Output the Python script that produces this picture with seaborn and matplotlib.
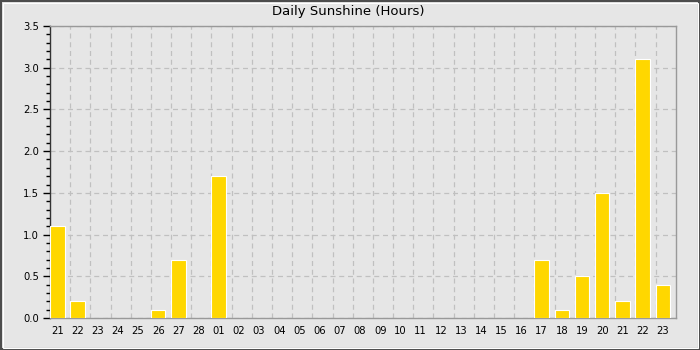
import matplotlib
matplotlib.use("Agg")
import matplotlib.pyplot as plt
import seaborn as sns
import pandas as pd
import numpy as np
from matplotlib.patches import Rectangle
from matplotlib.ticker import MultipleLocator

days = ["21", "22", "23", "24", "25", "26", "27", "28",
        "01", "02", "03", "04", "05", "06", "07", "08", "09", "10",
        "11", "12", "13", "14", "15", "16", "17", "18", "19", "20",
        "21", "22", "23"]
sunshine = [1.1, 0.2, 0.0, 0.0, 0.0, 0.1, 0.7, 0.0,
            1.7, 0.0, 0.0, 0.0, 0.0, 0.0, 0.0, 0.0, 0.0, 0.0,
            0.0, 0.0, 0.0, 0.0, 0.0, 0.0, 0.7, 0.1, 0.5, 1.5,
            0.2, 3.1, 0.4]
title = "Daily Sunshine (Hours)"

df = pd.DataFrame({"pos": np.arange(len(days)), "hours": sunshine})

sns.set_style("white")
plt.rcParams['font.family'] = ['DejaVu Sans']

W, H = 700, 350
fig = plt.figure(figsize=(7, 3.5), dpi=100, facecolor="#e6e6e6")
ax = fig.add_axes([50 / W, 1 - 318 / H, (675.7 - 50) / W, (318 - 26) / H])
ax.set_facecolor("#e6e6e6")

bw = 0.72
sns.barplot(data=df, x="pos", y="hours", color="#ffd700", width=bw,
            edgecolor="white", linewidth=0.8, saturation=1, ax=ax, zorder=3)

ax.set_xlim(-bw / 2, len(days) - bw / 2)
ax.set_ylim(0, 3.5)
ax.set_xticks(np.arange(len(days)))
ax.set_xticklabels(days)
ax.set_xticks(np.arange(1, len(days)) - bw / 2, minor=True)
ax.yaxis.set_major_locator(MultipleLocator(0.5))
ax.yaxis.set_minor_locator(MultipleLocator(0.1))
ax.yaxis.set_major_formatter(matplotlib.ticker.FormatStrFormatter("%.1f"))

ax.grid(True, axis="y", which="major", linestyle=(0, (4, 3)), color="#c0c0c0", linewidth=0.9, zorder=0)
ax.grid(True, axis="x", which="minor", linestyle=(0, (4, 3)), color="#c0c0c0", linewidth=0.9, zorder=0)
ax.grid(False, axis="x", which="major")
ax.set_axisbelow(True)

ax.tick_params(axis="x", which="both", length=0, labelsize=7.2, pad=6, colors="black")
ax.tick_params(axis="y", which="major", length=5, width=1, labelsize=7.2, pad=3, colors="black", left=True)
ax.tick_params(axis="y", which="minor", length=3, width=1, left=True, color="black")
ax.set_xlabel("")
ax.set_ylabel("")

for s in ["top", "right", "bottom"]:
    ax.spines[s].set_color("#999999")
    ax.spines[s].set_linewidth(1)
ax.spines["left"].set_color("#333333")
ax.spines["left"].set_linewidth(1)

fig.text(348 / W, 1 - 12 / H, title, ha="center", va="center", fontsize=9.5, color="black")

# outer frame
fig.patches.append(Rectangle((1 / W, 1 / H), (W - 2) / W, (H - 2) / H, transform=fig.transFigure,
                             fill=False, edgecolor="#4d4d4d", linewidth=1.5, zorder=10))
fig.patches.append(Rectangle((2.5 / W, 2.5 / H), (W - 5) / W, (H - 5) / H, transform=fig.transFigure,
                             fill=False, edgecolor="white", linewidth=0.75, zorder=10))

fig.savefig("out.png", dpi=100, facecolor=fig.get_facecolor())
